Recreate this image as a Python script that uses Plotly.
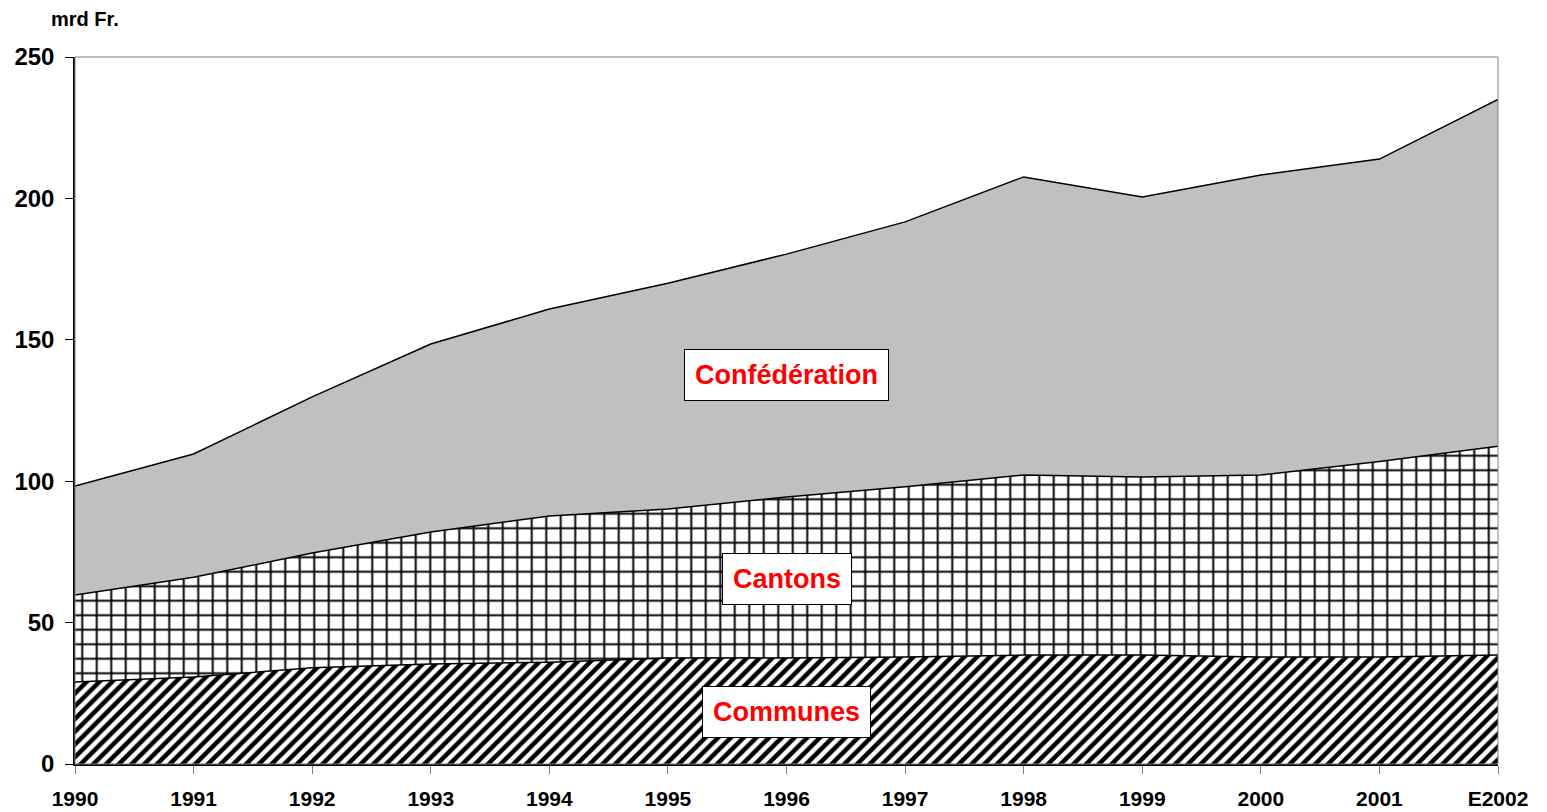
import plotly.graph_objects as go

years = ["1990", "1991", "1992", "1993", "1994", "1995", "1996",
         "1997", "1998", "1999", "2000", "2001", "E2002"]
communes = [29.0, 30.8, 34.0, 35.4, 36.0, 37.5, 37.5, 37.8, 38.5, 38.5, 37.8, 37.8, 38.5]
cantons = [30.8, 35.2, 40.6, 46.6, 51.7, 52.7, 56.9, 60.2, 63.7, 63.0, 64.4, 69.2, 73.9]
confederation = [38.5, 43.6, 55.2, 66.5, 73.2, 79.8, 85.9, 93.7, 105.4, 99.0, 106.1, 106.9, 122.6]

FONT = "Liberation Sans, Arial, sans-serif"

fig = go.Figure()

fig.add_trace(go.Scatter(
    x=years, y=communes, name="Communes", stackgroup="one", mode="lines",
    line=dict(color="black", width=1.5),
    fillcolor="white",
    fillpattern=dict(shape="/", fgcolor="black", bgcolor="white", fgopacity=1,
                     size=9, solidity=0.5),
))
fig.add_trace(go.Scatter(
    x=years, y=cantons, name="Cantons", stackgroup="one", mode="lines",
    line=dict(color="black", width=1.5),
    fillcolor="white",
    fillpattern=dict(shape="+", fgcolor="black", bgcolor="white", fgopacity=1,
                     size=14.5, solidity=0.25),
))
fig.add_trace(go.Scatter(
    x=years, y=confederation, name="Confédération", stackgroup="one", mode="lines",
    line=dict(color="black", width=1.5),
    fillcolor="#c0c0c0",
))

# labels in boxes (x is the category index, 6 -> 1996)
for text, yv in [("Confédération", 137.5), ("Cantons", 65.5), ("Communes", 18.5)]:
    fig.add_annotation(
        x=6, y=yv, text=text, showarrow=False,
        font=dict(family=FONT, size=27, color="red", weight="bold"),
        bgcolor="white", bordercolor="black", borderwidth=1, borderpad=10,
    )

fig.add_annotation(
    xref="paper", yref="paper", x=-0.018, y=1.035, xanchor="left", yanchor="bottom",
    text="<b>mrd Fr.</b>", showarrow=False,
    font=dict(family=FONT, size=20, color="black"),
)

# gray frame top/right
fig.add_shape(type="rect", xref="paper", yref="paper", x0=0, x1=1, y0=0, y1=1,
              line=dict(color="#808080", width=1), layer="above")

fig.update_xaxes(
    type="category", range=[0, 12], showgrid=False,
    showline=True, linecolor="black", linewidth=1.5,
    ticks="outside", ticklen=8, tickcolor="#808080",
    ticklabelstandoff=7, automargin=False,
    tickfont=dict(family=FONT, size=21, color="black", weight="bold"),
)
fig.update_yaxes(
    range=[0, 250], dtick=50, showgrid=False, zeroline=False,
    showline=True, linecolor="black", linewidth=1.5,
    ticks="outside", ticklen=8, tickcolor="black",
    ticklabelstandoff=6, automargin=False,
    tickfont=dict(family=FONT, size=24, color="black", weight="bold"),
)

# margins compensate the 8px page margin around the figure
fig.update_layout(
    width=1547, height=812,
    margin=dict(l=67, r=57, t=49, b=56, autoexpand=False),
    plot_bgcolor="white", paper_bgcolor="white",
    showlegend=False,
)

fig.write_html("out.html")
